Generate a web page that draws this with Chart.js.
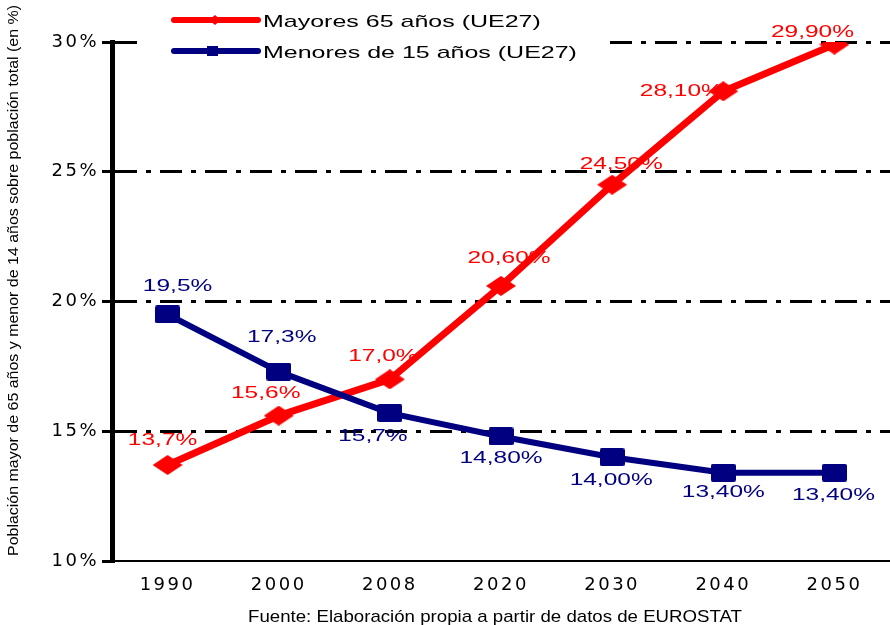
<!DOCTYPE html>
<html>
<head>
<meta charset="utf-8">
<script src="https://cdn.jsdelivr.net/npm/chart.js@4/dist/chart.umd.min.js"></script>
<style>
  html, body { margin: 0; padding: 0; background: #fff; }
  canvas { display: block; }
</style>
</head>
<body>
<canvas id="chart" width="890" height="625"></canvas>
<script>
// Data
const years = ["1990", "2000", "2008", "2020", "2030", "2040", "2050"];
const mayores65 = [13.7, 15.6, 17.0, 20.6, 24.5, 28.1, 29.9];
const menores15 = [19.5, 17.3, 15.7, 14.8, 14.0, 13.4, 13.4];
const mayoresLabels = ["13,7%", "15,6%", "17,0%", "20,60%", "24,50%", "28,10%", "29,90%"];
const menoresLabels = ["19,5%", "17,3%", "15,7%", "14,80%", "14,00%", "13,40%", "13,40%"];
const seriesNames = ["Mayores 65 años (UE27)", "Menores de 15 años (UE27)"];
const yTitle = "Población mayor de 65 años y menor de 14 años sobre población total (en %)";
const footer = "Fuente: Elaboración propia a partir de datos de EUROSTAT";

// Styles
const RED = "#ff0000";
const NAVY = "#000080";
const TEXT_FONT = '"Liberation Sans", Arial, sans-serif';

// label offsets (dx, dy) from each point, per series
const redOffsets = [[-5,-25],[-13,-22],[-7,-23],[8,-28],[9,-20],[-42,0],[-22,-12]];
const blueOffsets = [[10,-28],[3,-34],[-17,23],[0,22],[-1,23],[0,20],[-1,23]];

function makeMarker(w, h, color, shape){
  const c = document.createElement("canvas");
  c.width = w; c.height = h;
  const g = c.getContext("2d");
  g.fillStyle = color;
  g.beginPath();
  if (shape === "diamond"){
    g.moveTo(0, h/2); g.lineTo(w/2, 0); g.lineTo(w, h/2); g.lineTo(w/2, h);
  } else {
    g.roundRect(0, 0, w, h, 2);
  }
  g.closePath();
  g.fill();
  return c;
}
const redMarker = makeMarker(30, 20, RED, "diamond");
const blueMarker = makeMarker(25, 18, NAVY, "rect");

// stretched text, horizontally widened like the original picture
function drawText(ctx, txt, x, y, opts){
  ctx.save();
  ctx.letterSpacing = "0px";
  ctx.font = opts.font;
  ctx.fillStyle = opts.color || "#000";
  ctx.textBaseline = opts.baseline || "middle";
  ctx.textAlign = opts.align || "center";
  ctx.translate(x, y);
  if (opts.rotate) ctx.rotate(opts.rotate);
  let sx = opts.sx || 1;
  if (opts.fit) sx = opts.fit / ctx.measureText(txt).width;
  ctx.scale(sx, 1);
  ctx.fillText(txt, 0, 0);
  ctx.restore();
}

const spacingPlugin = {
  id: "spacing",
  beforeUpdate(c){ c.ctx.letterSpacing = "2.5px"; },
  beforeDraw(c){ c.ctx.letterSpacing = "2.5px"; }
};

const labelsPlugin = {
  id: "pointLabels",
  beforeDatasetsDraw(c){
    const ctx = c.ctx;
    const sets = [[0, mayoresLabels, redOffsets, RED], [1, menoresLabels, blueOffsets, NAVY]];
    sets.forEach(([i, texts, offs, color]) => {
      c.getDatasetMeta(i).data.forEach((pt, j) => {
        drawText(ctx, texts[j], pt.x + offs[j][0], pt.y + offs[j][1],
          { font: "17px " + TEXT_FONT, color, sx: 1.44 });
      });
    });
  }
};

const decorPlugin = {
  id: "decor",
  afterDraw(c){
    const ctx = c.ctx;
    // legend box
    ctx.save();
    ctx.fillStyle = "#fff";
    ctx.fillRect(137, 0, 473, 62);
    const items = [[RED, 20, 22, "diamond"], [NAVY, 51, 53, "rect"]];
    items.forEach(([color, ly, ty, shape], i) => {
      ctx.strokeStyle = color;
      ctx.lineWidth = 6;
      ctx.lineCap = "round";
      ctx.beginPath(); ctx.moveTo(174, ly); ctx.lineTo(258, ly); ctx.stroke();
      ctx.fillStyle = color;
      if (shape === "diamond"){
        ctx.beginPath(); ctx.moveTo(209, ly); ctx.lineTo(215, ly-5); ctx.lineTo(221, ly); ctx.lineTo(215, ly+5); ctx.fill();
      } else {
        ctx.fillRect(207, ly-5, 11, 10);
      }
      drawText(ctx, seriesNames[i], 263, ty, { font: "17px " + TEXT_FONT, align: "left", sx: 1.47 });
    });
    ctx.restore();
    // axis title and source
    drawText(ctx, yTitle, 18, 556, { font: "14px " + TEXT_FONT, align: "left", baseline: "alphabetic", rotate: -Math.PI/2, fit: 551 });
    drawText(ctx, footer, 248, 622, { font: "17px " + TEXT_FONT, align: "left", baseline: "alphabetic", fit: 494 });
  }
};

new Chart(document.getElementById("chart"), {
  type: "line",
  data: {
    labels: years,
    datasets: [
      {
        label: seriesNames[0],
        data: mayores65,
        borderColor: RED,
        backgroundColor: RED,
        borderWidth: 7,
        borderJoinStyle: "round",
        borderCapStyle: "round",
        pointStyle: redMarker,
        pointRadius: 12,
        tension: 0,
        order: 1
      },
      {
        label: seriesNames[1],
        data: menores15,
        borderColor: NAVY,
        backgroundColor: NAVY,
        borderWidth: 6,
        borderJoinStyle: "round",
        borderCapStyle: "round",
        pointStyle: blueMarker,
        pointRadius: 12,
        tension: 0,
        order: 0
      }
    ]
  },
  options: {
    responsive: false,
    animation: false,
    layout: { autoPadding: false, padding: { left: 0, top: 42, right: -4, bottom: 0 } },
    plugins: { legend: { display: false }, tooltip: { enabled: false } },
    scales: {
      x: {
        offset: true,
        grid: { display: false, drawTicks: false },
        border: { display: true, color: "#000", width: 2 },
        ticks: { color: "#000", font: { family: "DejaVu Sans", size: 18 }, padding: 14, maxRotation: 0 },
        afterFit(s){ s.height = 64; s.paddingLeft = 0; s.paddingRight = 0; }
      },
      y: {
        min: 10,
        max: 30,
        ticks: {
          stepSize: 5,
          color: "#000",
          padding: 3,
          font: { family: "DejaVu Sans", size: 18 },
          callback: v => v + "%"
        },
        grid: {
          color: ctx => (ctx.tick && ctx.tick.value === 10) ? "rgba(0,0,0,0)" : "#000",
          lineWidth: 3,
          drawTicks: true,
          tickLength: 10,
          tickColor: "#000",
          tickWidth: 3
        },
        border: { display: true, color: "#000", width: 5, dash: [22, 9, 5, 9] },
        afterFit(s){ s.width = 112; s.paddingTop = 0; s.paddingBottom = 0; }
      }
    }
  },
  plugins: [spacingPlugin, labelsPlugin, decorPlugin]
});
</script>
</body>
</html>
